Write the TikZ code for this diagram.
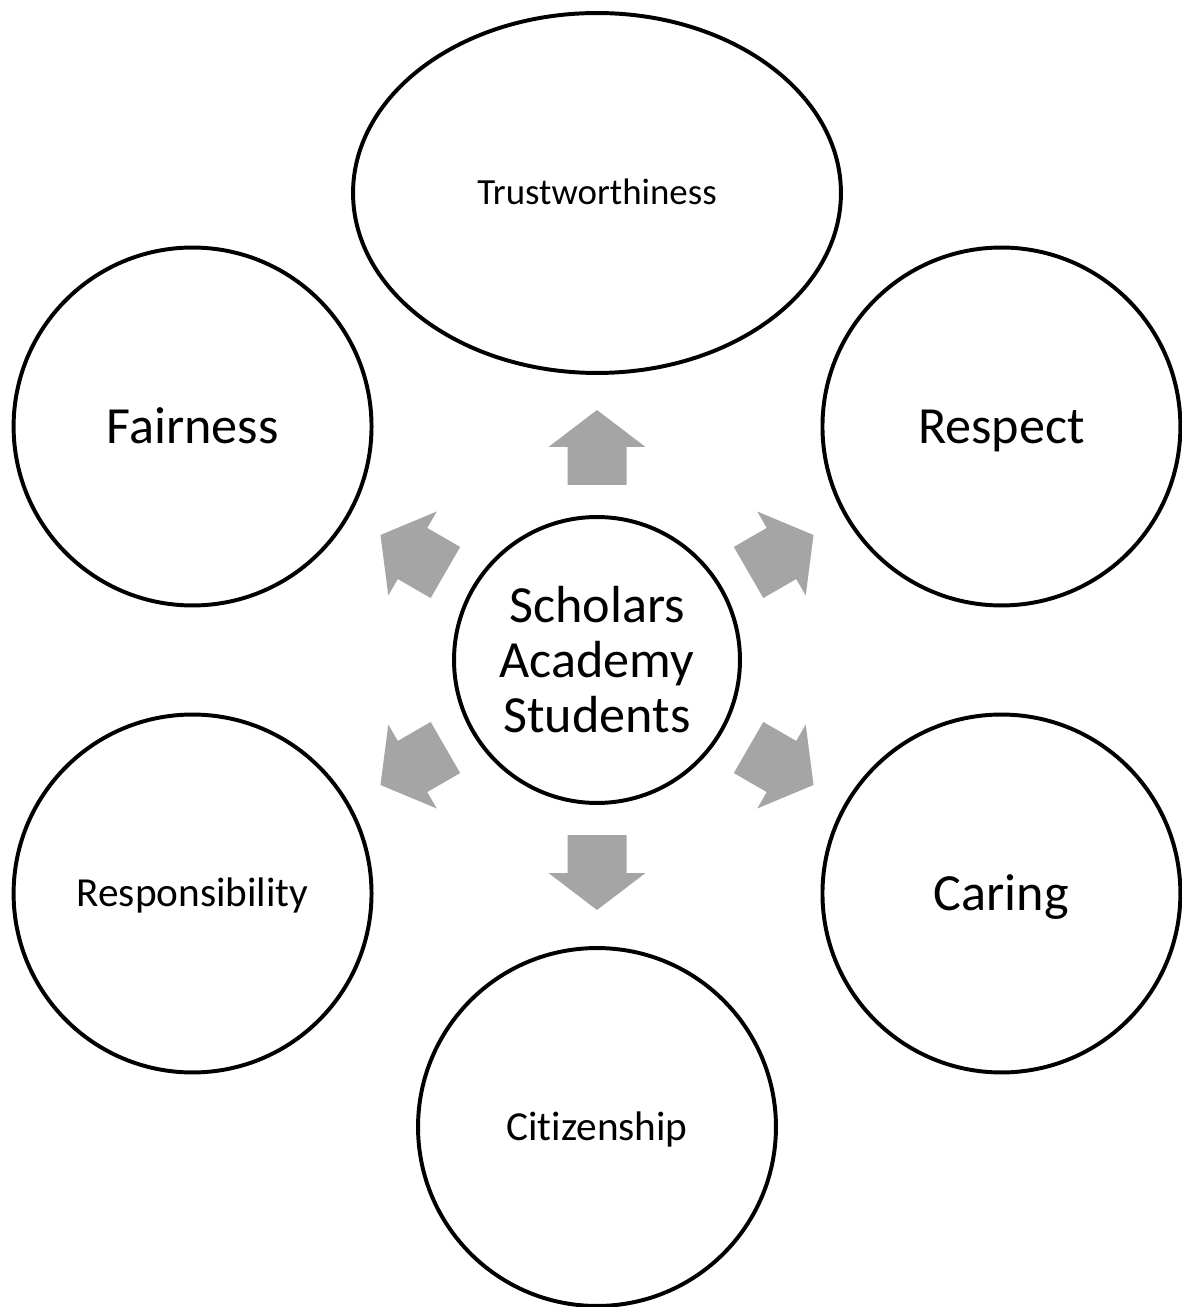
\documentclass[tikz,border=0pt]{standalone}
\usepackage{fontspec}
\setmainfont[Ligatures={NoCommon}]{Carlito}
\usepackage{tikz}
\usetikzlibrary{shapes.geometric}
\definecolor{gris_fleche}{HTML}{A5A5A5}

\begin{document}
\begin{tikzpicture}[x=0.02cm,y=0.02cm,
        valeur/.style={circle, draw=black, line width=2.25pt, minimum size=7.16cm, inner sep=0pt, text depth=0pt},
        grand/.style={font=\fontsize{29.7}{31.3}\selectfont, text height=18.8pt},
        moyen/.style={font=\fontsize{23.5}{25}\selectfont, text height=14.9pt},
        petit/.style={font=\fontsize{21}{23}\selectfont, text height=13.3pt}]

        % Fixer le cadre de la figure
        \useasboundingbox (-597,-647) rectangle (584,660);

        % Cercle central
        \node[circle, draw=black, line width=2.25pt, minimum size=5.72cm, inner sep=0pt, align=center, font=\fontsize{29.7}{31.3}\selectfont] (S) at (0,0) {Scholars\\Academy\\Students};

        % Placer les six valeurs autour du centre
        \node[valeur, ellipse, minimum width=9.76cm, minimum height=7.2cm, petit] (T) at (90:467) {Trustworthiness};
        \node[valeur, grand] (F) at (150:467) {Fairness};
        \node[valeur, grand] (R) at (30:467) {Respect};
        \node[valeur, moyen] (Re) at (210:467) {Responsibility};
        \node[valeur, grand] (Ca) at (330:467) {Caring};
        \node[valeur, moyen] (Ci) at (270:467) {Citizenship};

        % Dessiner les flèches grises vers chaque valeur
        \foreach \a in {30,90,...,330} {
            \fill[gris_fleche, shift={(S.center)}, rotate=\a] (175,-29.5) -- (213,-29.5) -- (213,-48.5) -- (250,0) -- (213,48.5) -- (213,29.5) -- (175,29.5) -- cycle;
        }
    \end{tikzpicture}
\end{document}
